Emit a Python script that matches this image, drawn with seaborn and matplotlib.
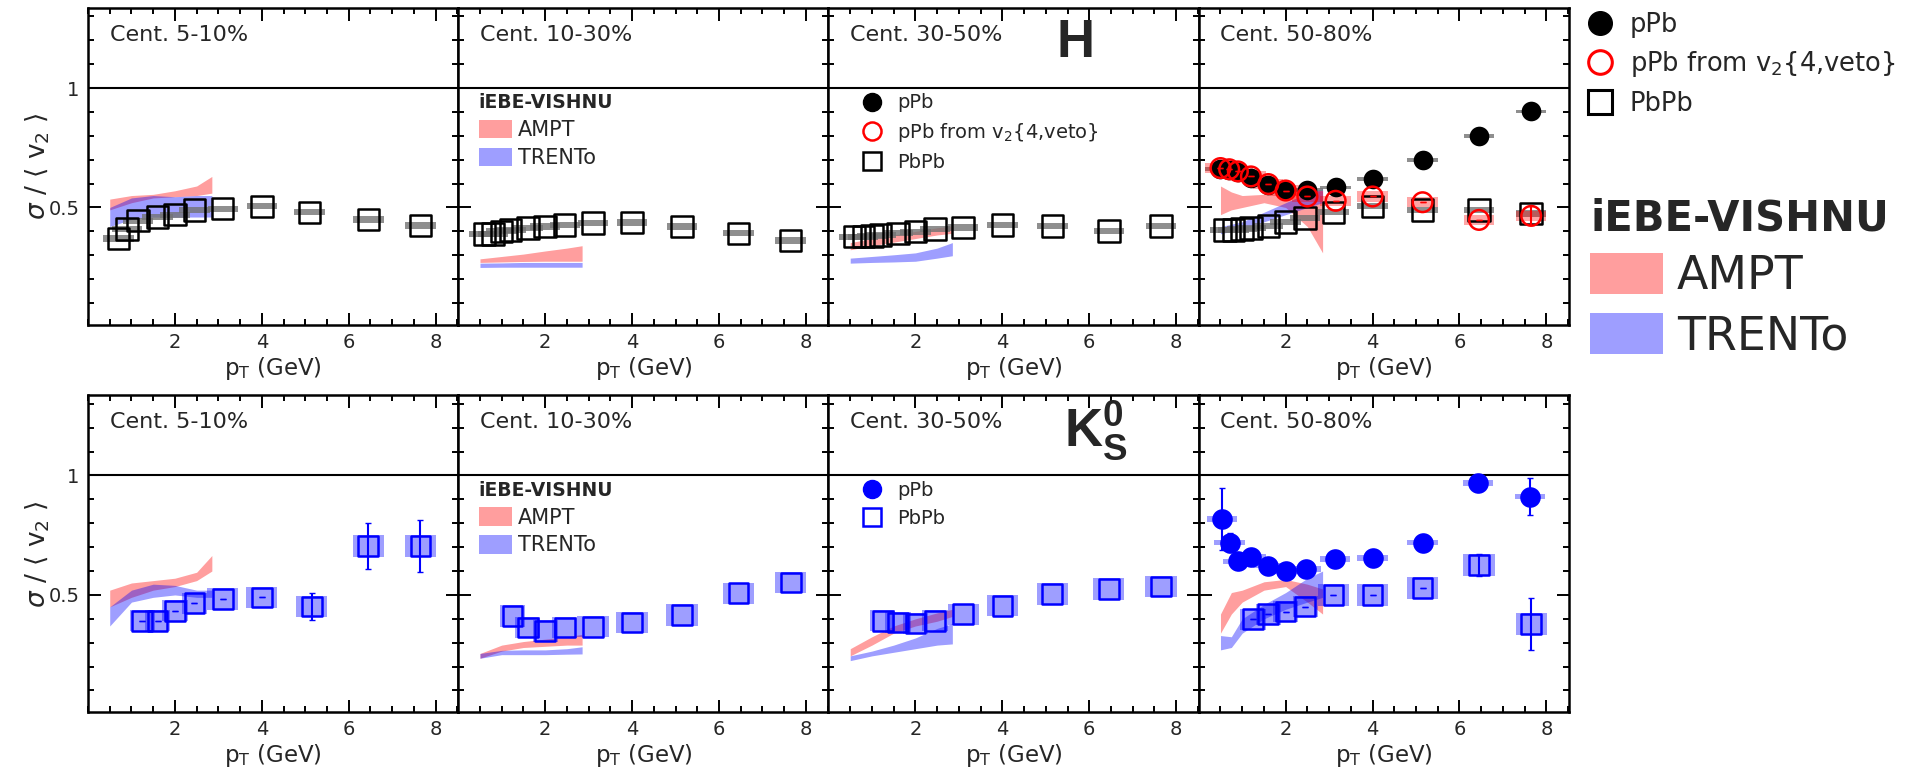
import numpy as np
import matplotlib
matplotlib.use("Agg")
import matplotlib.pyplot as plt
import seaborn as sns
from matplotlib.lines import Line2D
from matplotlib.patches import Patch
from matplotlib.ticker import MultipleLocator, FixedLocator

# ---------------- data ----------------
cent_labels = ["Cent. 5-10%", "Cent. 10-30%", "Cent. 30-50%", "Cent. 50-80%"]

# charged hadrons, PbPb
h_pt = [0.6, 0.8, 1.0, 1.2, 1.6, 2.0, 2.45, 3.1, 4.0, 5.15, 6.45, 7.65]
h_pt_c1 = [0.7, 0.9, 1.15, 1.6, 2.0, 2.45, 3.1, 4.0, 5.1, 6.45, 7.65]
h_pbpb_c1 = [0.37, 0.41, 0.445, 0.46, 0.47, 0.49, 0.495, 0.505, 0.48, 0.45, 0.425]
h_pbpb_c2 = [0.39, 0.39, 0.40, 0.405, 0.415, 0.42, 0.427, 0.434, 0.437, 0.42, 0.392, 0.362]
h_pbpb_c3 = [0.378, 0.378, 0.381, 0.385, 0.392, 0.399, 0.409, 0.416, 0.427, 0.423, 0.402, 0.423]
h_pbpb_c4 = [0.405, 0.405, 0.41, 0.415, 0.423, 0.44, 0.455, 0.48, 0.505, 0.49, 0.49, 0.475]
h_pbpb_sys = 0.013

# charged hadrons, pPb (50-80% panel)
h_ppb_pt = [0.5, 0.7, 0.9, 1.2, 1.6, 2.0, 2.5, 3.15, 4.0, 5.15, 6.45, 7.65]
h_ppb = [0.66, 0.658, 0.648, 0.623, 0.595, 0.574, 0.575, 0.584, 0.62, 0.70, 0.80, 0.902]
h_ppb_sys = 0.008
h_ppb_veto = [0.665, 0.66, 0.651, 0.63, 0.598, 0.571, 0.546, 0.528, 0.546, 0.522, 0.448, 0.465]
h_ppb_veto_err = [0, 0, 0, 0, 0, 0, 0, 0, 0, 0, 0, 0.04]
h_ppb_veto_sys = 0.022

# K0S, PbPb
k_pt = [1.25, 1.6, 2.0, 2.45, 3.1, 4.0, 5.15, 6.45, 7.65]
k_pbpb_c1 = [0.392, 0.392, 0.434, 0.465, 0.482, 0.49, 0.451, 0.705, 0.705]
k_pbpb_c2 = [0.412, 0.363, 0.349, 0.363, 0.367, 0.384, 0.416, 0.507, 0.552]
k_pbpb_c3 = [0.392, 0.384, 0.381, 0.392, 0.419, 0.455, 0.503, 0.524, 0.535]
k_pbpb_c4 = [0.398, 0.419, 0.43, 0.451, 0.50, 0.50, 0.528, 0.626, 0.378]
k_err_c1 = [0, 0, 0, 0, 0, 0, 0.057, 0.097, 0.11]
k_err_c4 = [0, 0, 0, 0, 0, 0, 0, 0.045, 0.11]
k_pbpb_sys = 0.045

# K0S, pPb (50-80% panel)
k_ppb_pt = [0.53, 0.71, 0.9, 1.2, 1.6, 2.0, 2.47, 3.13, 4.0, 5.15, 6.43, 7.62]
k_ppb = [0.817, 0.719, 0.64, 0.658, 0.623, 0.601, 0.609, 0.649, 0.656, 0.719, 0.968, 0.912]
k_ppb_err = [0.13, 0.04, 0, 0, 0, 0, 0, 0, 0, 0, 0, 0.077]
k_ppb_sys = 0.012

# iEBE-VISHNU bands: (low, high) per centrality
band_pt = [0.5, 1.0, 1.5, 2.0, 2.5, 2.85]
band_pt_c4 = [0.5, 0.75, 1.0, 1.5, 2.0, 2.5, 2.85]
h_ampt = [
    ([0.49, 0.52, 0.54, 0.545, 0.55, 0.56], [0.535, 0.55, 0.555, 0.57, 0.59, 0.63]),
    ([0.27, 0.272, 0.274, 0.275, 0.275, 0.275], [0.285, 0.295, 0.305, 0.318, 0.33, 0.34]),
    ([0.323, 0.34, 0.355, 0.37, 0.385, 0.392], [0.353, 0.37, 0.385, 0.40, 0.415, 0.423]),
    ([0.47, 0.49, 0.50, 0.52, 0.50, 0.42, 0.31], [0.59, 0.565, 0.55, 0.555, 0.56, 0.57, 0.57]),
]
h_trento = [
    ([0.42, 0.45, 0.46, 0.46, 0.46, 0.46], [0.50, 0.54, 0.55, 0.545, 0.55, 0.55]),
    ([0.249, 0.25, 0.25, 0.25, 0.25, 0.25], [0.267, 0.268, 0.27, 0.27, 0.27, 0.27]),
    ([0.267, 0.27, 0.272, 0.275, 0.288, 0.298], [0.288, 0.295, 0.302, 0.31, 0.33, 0.353]),
    ([0.39, 0.40, 0.41, 0.44, 0.47, 0.50, 0.52], [0.42, 0.43, 0.44, 0.48, 0.52, 0.56, 0.58]),
]
k_ampt = [
    ([0.45, 0.49, 0.52, 0.535, 0.56, 0.60], [0.52, 0.55, 0.56, 0.57, 0.595, 0.665]),
    ([0.235, 0.265, 0.28, 0.285, 0.29, 0.29], [0.255, 0.29, 0.305, 0.315, 0.325, 0.335]),
    ([0.245, 0.29, 0.34, 0.37, 0.39, 0.41], [0.275, 0.325, 0.37, 0.40, 0.425, 0.44]),
    ([0.34, 0.42, 0.47, 0.52, 0.535, 0.47, 0.42], [0.42, 0.51, 0.52, 0.555, 0.565, 0.545, 0.525]),
]
k_trento = [
    ([0.37, 0.47, 0.49, 0.50, 0.49, 0.49], [0.45, 0.52, 0.545, 0.54, 0.52, 0.52]),
    ([0.235, 0.25, 0.25, 0.25, 0.252, 0.253], [0.255, 0.268, 0.27, 0.27, 0.275, 0.283]),
    ([0.225, 0.245, 0.26, 0.275, 0.29, 0.295], [0.245, 0.265, 0.29, 0.32, 0.36, 0.38]),
    ([0.27, 0.28, 0.34, 0.40, 0.44, 0.47, 0.49], [0.33, 0.325, 0.40, 0.46, 0.51, 0.57, 0.60]),
]

# ---------------- style ----------------
sns.set_style("ticks")
plt.rcParams['font.family'] = ['DejaVu Sans']
plt.rcParams['mathtext.fontset'] = 'custom'
plt.rcParams['mathtext.rm'] = 'DejaVu Sans'
plt.rcParams['mathtext.it'] = 'DejaVu Sans:italic'
plt.rcParams['mathtext.bf'] = 'Liberation Sans:bold'

RED_BAND = (1.0, 0.0, 0.0, 0.38)
BLUE_BAND = (0.0, 0.0, 1.0, 0.38)
GRAY_BOX = (0.45, 0.45, 0.45, 0.8)
BLUE = '#0000ff'

fig, axes = plt.subplots(2, 4, figsize=(19.15, 7.74), dpi=100, sharey=True)
fig.subplots_adjust(left=88 / 1915, right=1569 / 1915, top=1 - 8 / 774,
                    bottom=1 - 712 / 774, wspace=0, hspace=0.224)


def sys_boxes(ax, x, y, half, color, width=0.7):
    x = np.asarray(x)
    y = np.asarray(y)
    ax.bar(x, 2 * half, bottom=y - half, width=width, color=color,
           linewidth=0, zorder=2)


def bands(ax, pt, ampt, trento):
    ax.fill_between(pt, ampt[0], ampt[1], color=RED_BAND, linewidth=0, zorder=1)
    ax.fill_between(pt, trento[0], trento[1], color=BLUE_BAND, linewidth=0, zorder=1)


h_pbpb = [h_pbpb_c1, h_pbpb_c2, h_pbpb_c3, h_pbpb_c4]
k_pbpb = [k_pbpb_c1, k_pbpb_c2, k_pbpb_c3, k_pbpb_c4]

for i in range(4):
    # ---- top row: charged hadrons ----
    ax = axes[0, i]
    bands(ax, band_pt_c4 if i == 3 else band_pt, h_ampt[i], h_trento[i])
    xs = h_pt_c1 if i == 0 else h_pt
    sys_boxes(ax, xs, h_pbpb[i], h_pbpb_sys, GRAY_BOX)
    if i == 3:
        sys_boxes(ax, h_ppb_pt, h_ppb, h_ppb_sys, GRAY_BOX)
        sys_boxes(ax, h_ppb_pt, h_ppb_veto, h_ppb_veto_sys, (1, 0, 0, 0.35))
        sns.scatterplot(x=h_ppb_pt, y=h_ppb, ax=ax, marker='o', s=200,
                        color='black', edgecolor='black', linewidth=0, zorder=4)
        ax.errorbar(h_ppb_pt, h_ppb_veto, yerr=h_ppb_veto_err, fmt='none',
                    ecolor='red', elinewidth=1.5, capsize=2, zorder=5)
        sns.scatterplot(x=h_ppb_pt, y=h_ppb_veto, ax=ax, marker='o', s=200,
                        color='none', edgecolor='red', linewidth=1.8, zorder=5)
    sns.scatterplot(x=xs, y=h_pbpb[i], ax=ax, marker='s', s=240,
                    color='none', edgecolor='black', linewidth=1.8, zorder=3)

    # ---- bottom row: K0S ----
    ax = axes[1, i]
    bands(ax, band_pt_c4 if i == 3 else band_pt, k_ampt[i], k_trento[i])
    kw = np.where(np.array(k_pt) < 2.7, 0.58, 0.72)
    sys_boxes(ax, k_pt, k_pbpb[i], k_pbpb_sys, BLUE_BAND, width=kw)
    if i == 0:
        ax.errorbar(k_pt, k_pbpb[i], yerr=k_err_c1, fmt='none', ecolor=BLUE,
                    elinewidth=1.5, capsize=2, zorder=3)
    if i == 3:
        ax.errorbar(k_pt, k_pbpb[i], yerr=k_err_c4, fmt='none', ecolor=BLUE,
                    elinewidth=1.5, capsize=2, zorder=3)
        sys_boxes(ax, k_ppb_pt, k_ppb, k_ppb_sys, BLUE_BAND)
        ax.errorbar(k_ppb_pt, k_ppb, yerr=k_ppb_err, fmt='none', ecolor=BLUE,
                    elinewidth=1.5, capsize=2, zorder=4)
        sns.scatterplot(x=k_ppb_pt, y=k_ppb, ax=ax, marker='o', s=220,
                        color=BLUE, edgecolor=BLUE, linewidth=0, zorder=4)
    sns.scatterplot(x=k_pt, y=k_pbpb[i], ax=ax, marker='s', s=200,
                    color='none', edgecolor=BLUE, linewidth=1.8, zorder=3)

for r in range(2):
    for i in range(4):
        ax = axes[r, i]
        ax.axhline(1.0, color='black', linewidth=1.5, zorder=1)
        ax.set_xlim(0, 8.52)
        ax.set_ylim(0.01, 1.335)
        ax.xaxis.set_major_locator(FixedLocator([2, 4, 6, 8]))
        ax.xaxis.set_minor_locator(MultipleLocator(0.5))
        ax.yaxis.set_major_locator(FixedLocator([0.5, 1.0]))
        ax.yaxis.set_minor_locator(MultipleLocator(0.1))
        ax.set_yticklabels(["0.5", "1"])
        ax.tick_params(which='both', direction='in', top=True, right=True,
                       width=1.4, color='black', labelsize=14, pad=6)
        ax.tick_params(which='major', length=9)
        ax.tick_params(which='minor', length=4.5)
        for sp in ax.spines.values():
            sp.set_linewidth(1.8)
            sp.set_color('black')
        ax.set_xlabel(r"p$_{\rm T}$ (GeV)", fontsize=16.5, labelpad=2)
        ax.set_ylabel("")
        ax.text(0.5, 1.223, cent_labels[i], fontsize=16, ha='left', va='center')
    axes[r, 0].set_ylabel(r"$\sigma$ / $\langle$ v$_2$ $\rangle$", fontsize=19)
    axes[r, 0].yaxis.set_label_coords(-0.097, 0.5)

axes[0, 2].text(5.69, 1.19, "H", fontsize=38, fontweight='bold',
                family='Liberation Sans', ha='center', va='center')
axes[1, 2].text(6.15, 1.19, r"$\mathbf{K^0_S}$", fontsize=38,
                ha='center', va='center')

# ---------------- legends ----------------
model_handles = [Patch(facecolor=RED_BAND, edgecolor='none'),
                 Patch(facecolor=BLUE_BAND, edgecolor='none')]
for r in range(2):
    axes[r, 1].legend(model_handles, ["AMPT", "TRENTo"], loc='upper left',
                      bbox_to_anchor=(0.055, 0.73), frameon=False, fontsize=15,
                      title="iEBE-VISHNU", alignment='left',
                      title_fontproperties={'weight': 'bold', 'size': 13.5},
                      handlelength=1.6, handleheight=1.0, handletextpad=0.3,
                      labelspacing=0.35, borderpad=0, borderaxespad=0)

h_handles = [Line2D([], [], marker='o', ls='none', color='black', markersize=13),
             Line2D([], [], marker='o', ls='none', markerfacecolor='none',
                    markeredgecolor='red', markeredgewidth=1.8, markersize=13),
             Line2D([], [], marker='s', ls='none', markerfacecolor='none',
                    markeredgecolor='black', markeredgewidth=1.8, markersize=13)]
h_labels = ["pPb", r"pPb from v$_2${4,veto}", "PbPb"]
axes[0, 2].legend(h_handles, h_labels, loc='upper left', bbox_to_anchor=(0.09, 0.73),
                  frameon=False, fontsize=14, handlelength=1.0, handletextpad=0.8,
                  labelspacing=0.45, borderpad=0, borderaxespad=0)

k_handles = [Line2D([], [], marker='o', ls='none', color=BLUE, markersize=13),
             Line2D([], [], marker='s', ls='none', markerfacecolor='none',
                    markeredgecolor=BLUE, markeredgewidth=1.8, markersize=13)]
axes[1, 2].legend(k_handles, ["pPb", "PbPb"], loc='upper left',
                  bbox_to_anchor=(0.09, 0.73), frameon=False, fontsize=14,
                  handlelength=1.0, handletextpad=0.8, labelspacing=0.45,
                  borderpad=0, borderaxespad=0)

big_h = [Line2D([], [], marker='o', ls='none', color='black', markersize=17),
         Line2D([], [], marker='o', ls='none', markerfacecolor='none',
                markeredgecolor='red', markeredgewidth=2.2, markersize=17),
         Line2D([], [], marker='s', ls='none', markerfacecolor='none',
                markeredgecolor='black', markeredgewidth=2.2, markersize=17)]
fig.legend(big_h, h_labels, loc='upper left', bbox_to_anchor=(1585 / 1915, 0.985),
           frameon=False, fontsize=18.5, handlelength=1.2, handletextpad=0.55,
           labelspacing=0.45, borderpad=0, borderaxespad=0)
fig.legend(model_handles, ["AMPT", "TRENTo"], loc='upper left',
           bbox_to_anchor=(1590 / 1915, 0.745), frameon=False, fontsize=33,
           title="iEBE-VISHNU", alignment='left',
           title_fontproperties={'weight': 'bold', 'size': 30},
           handlelength=1.6, handleheight=1.0, handletextpad=0.3,
           labelspacing=0.3, borderpad=0, borderaxespad=0)

plt.savefig("out.png", dpi=100)
